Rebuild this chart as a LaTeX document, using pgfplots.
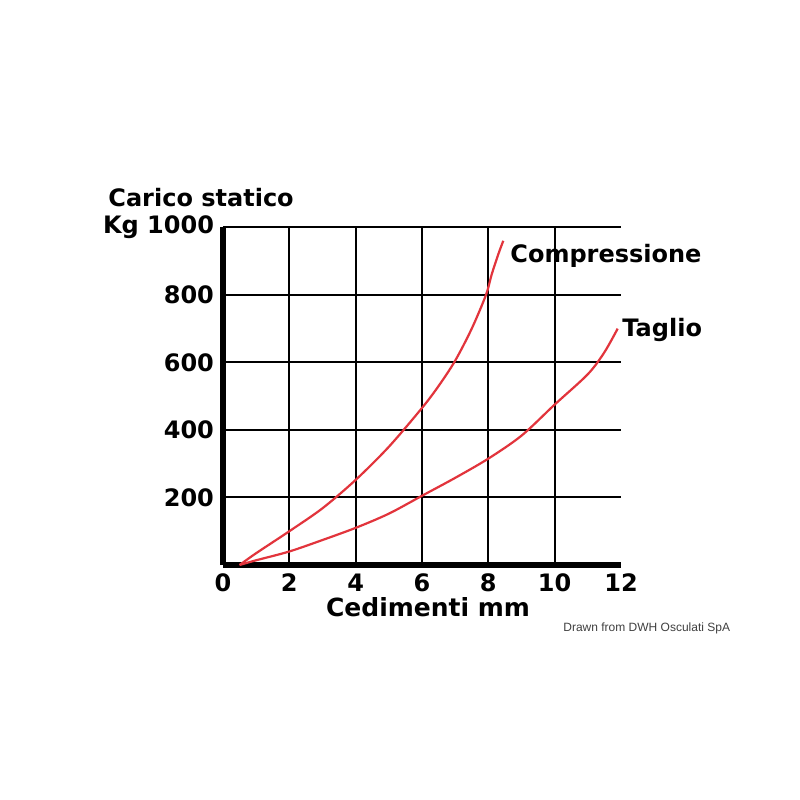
\documentclass[border=0pt]{standalone}
\usepackage{pgfplots}
\pgfplotsset{compat=1.18}
\usepackage{fontspec}
\setmainfont{DejaVu Sans}
\newfontfamily\smallsans{Liberation Sans}
\definecolor{curvered}{HTML}{E2343C}

\pgfplotstableread{
x y
0.5 0
1 35
2 100
3 168
4 252
5 350
6 465
6.5 530
7 605
7.5 700
7.93 800
8.1 860
8.3 920
8.45 960
}\compressione

\pgfplotstableread{
x y
0.5 0
1 14
2 40
3 74
4 110
5 152
6 205
7 258
8 315
9 383
10 475
11 565
11.5 630
11.9 700
}\taglio

\begin{document}
\begin{tikzpicture}
\path[use as bounding box, fill=white] (0,0) rectangle (400pt,400pt);
\begin{axis}[
    at={(111.5pt,117.5pt)},
    anchor=south west,
    scale only axis,
    width=199pt,
    height=168.85pt,
    xmin=0, xmax=12,
    ymin=0, ymax=1000,
    axis lines=left,
    axis line style={-, line width=3pt, black},
    xtick={0,2,...,12},
    ytick={200,400,600,800,1000},
    yticklabels={200,400,600,800,Kg 1000},
    major tick length=0pt,
    ymajorgrids,
    extra x ticks={2,4,6,8,10},
    extra x tick labels={},
    extra x tick style={grid=major, major tick length=0pt},
    grid style={black, line width=1pt},
    tick label style={font=\bfseries\fontsize{12}{12}\selectfont, black},
    xticklabel style={yshift=-1pt},
    yticklabel style={xshift=-1pt},
    /pgf/number format/assume math mode=true,
    clip=false,
]
\addplot[curvered, line width=1.1pt, smooth, tension=0.5] table[x=x, y=y] {\compressione};
\addplot[curvered, line width=1.1pt, smooth, tension=0.5] table[x=x, y=y] {\taglio};
\end{axis}
\node[anchor=west, inner sep=0pt, font=\bfseries\fontsize{12}{12}\selectfont] at (54pt,301pt) {Carico statico};
\node[anchor=west, inner sep=0pt, font=\bfseries\fontsize{12}{12}\selectfont] at (255pt,272pt) {Compressione};
\node[anchor=west, inner sep=0pt, font=\bfseries\fontsize{12}{12}\selectfont] at (311pt,235pt) {Taglio};
\node[anchor=center, font=\bfseries\fontsize{12.5}{12.5}\selectfont] at (214pt,96.5pt) {Cedimenti mm};
\node[anchor=west, inner sep=0pt, text=black!75, font=\smallsans\fontsize{6}{6}\selectfont] at (281.5pt,86pt) {Drawn from DWH Osculati SpA};
\end{tikzpicture}
\end{document}
